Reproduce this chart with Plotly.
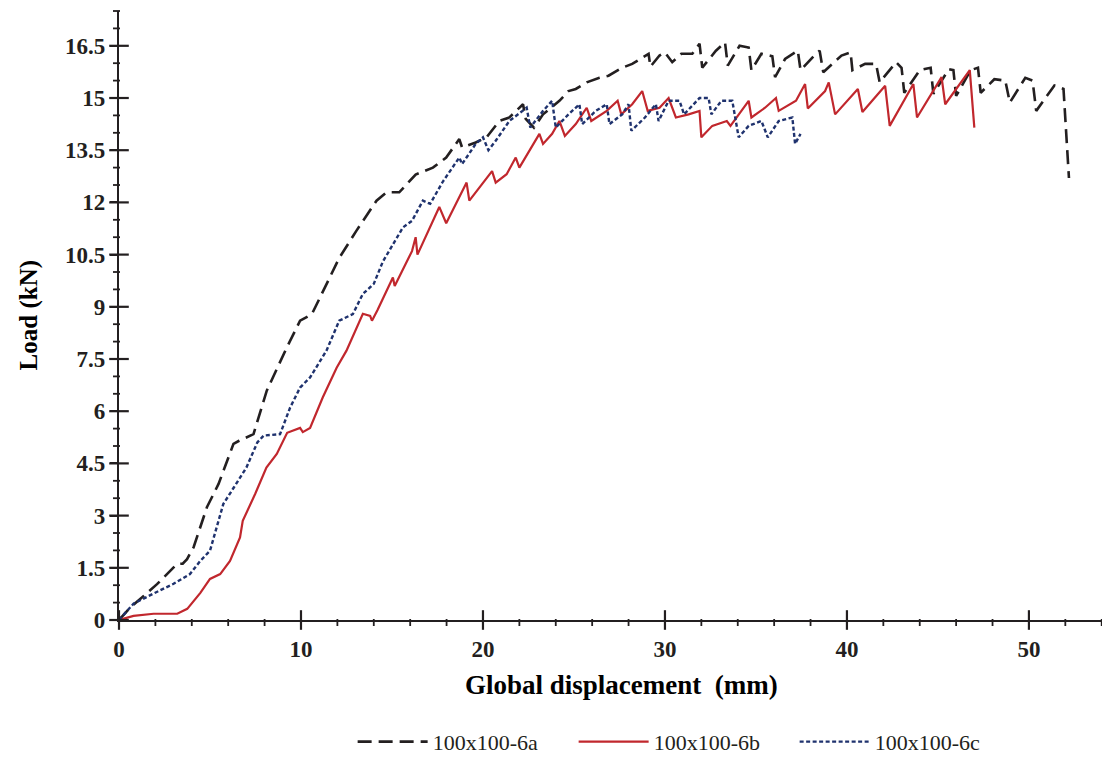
import plotly.graph_objects as go

# ---- data ----
x_6a = [0, 0.6, 1.18, 2.09, 3.19, 3.5, 3.74, 4.1, 4.83, 5.47, 6.29, 6.6, 7.39, 8.12, 9.22, 9.95, 10.6, 11.4,
        12.1, 13.05, 14.15, 14.7, 15.4, 16.3, 17.25, 17.98, 18.7, 18.85, 19.6, 20.2, 20.9, 21.45, 22.2, 22.35,
        22.8, 23.3, 24.2, 24.7, 25.1, 25.7, 26.4, 26.9, 27.65, 28.2, 29.1, 29.2, 29.7, 30.0, 30.4, 30.9, 31.5,
        31.9, 32.05, 32.8, 33.3, 33.45, 34.1, 34.6, 34.75, 35.3, 35.9, 36.05, 36.6, 37.3, 37.45, 38.3, 38.5,
        38.7, 39.7, 40.2, 40.3, 41.0, 41.6, 41.8, 42.7, 43.0, 43.15, 44.0, 44.6, 44.75, 45.6, 45.85, 46.0,
        46.8, 47.2, 47.35, 48.1, 48.7, 48.95, 49.8, 50.2, 50.4, 51.4, 51.9, 52.2]
y_6a = [0, 0.35, 0.61, 1.03, 1.61, 1.62, 1.75, 2.09, 3.24, 3.91, 5.06, 5.15, 5.34, 6.59, 7.83, 8.6, 8.79, 9.66,
        10.4, 11.19, 12.05, 12.29, 12.29, 12.8, 13.0, 13.29, 13.82, 13.58, 13.72, 13.87, 14.34, 14.44, 14.82, 14.4,
        14.15, 14.53, 14.92, 15.2, 15.26, 15.45, 15.58, 15.64, 15.87, 15.98, 16.27, 15.9, 16.22, 16.31, 16.03, 16.27, 16.27,
        16.56, 15.87, 16.36, 16.6, 15.93, 16.5, 16.45, 15.8, 16.27, 16.2, 15.6, 16.12, 16.36, 15.8, 16.27, 16.36,
        15.74, 16.22, 16.31, 15.8, 15.98, 15.98, 15.45, 16.03, 15.87, 15.15, 15.8, 15.87, 15.12, 15.83, 15.8, 15.06,
        15.8, 15.87, 15.15, 15.54, 15.5, 14.87, 15.58, 15.5, 14.63, 15.36, 15.26, 12.7]

x_6b = [0, 0.8, 1.9, 3.2, 3.75, 4.47, 5.0, 5.56, 6.1, 6.65, 6.8, 7.48, 8.1, 8.67, 9.24, 9.95, 10.1, 10.5, 11.2,
        11.96, 12.5, 13.4, 13.8, 13.9, 14.2, 15.05, 15.15, 16.1, 16.3, 16.4, 17.6, 17.98, 19.1, 19.25, 20.5, 20.7,
        21.3, 21.8, 22.0, 22.55, 23.1, 23.3, 23.8, 24.2, 24.5, 25.1, 25.7, 25.95, 26.8, 27.4, 27.6, 28.2, 28.75,
        29.05, 29.7, 30.2, 30.6, 31.3, 31.9, 32.0, 32.6, 33.4, 33.6, 34.2, 34.6, 34.75, 35.5, 36.1, 36.25, 37.2,
        37.7, 37.85, 38.8, 39.0, 39.35, 40.6, 40.85, 42.1, 42.35, 43.65, 43.85, 45.2, 45.4, 46.75, 47.0]
y_6b = [0, 0.12, 0.18, 0.18, 0.32, 0.78, 1.18, 1.32, 1.7, 2.37, 2.85, 3.62, 4.38, 4.77, 5.38, 5.52, 5.4, 5.52, 6.4,
        7.25, 7.74, 8.8, 8.74, 8.6, 8.9, 9.84, 9.6, 10.6, 11.0, 10.5, 11.87, 11.4, 12.57, 12.05, 12.9, 12.57,
        12.81, 13.29, 13.0, 13.5, 13.97, 13.68, 13.97, 14.34, 13.91, 14.25, 14.72, 14.34, 14.63, 14.92, 14.53, 14.82, 15.2,
        14.63, 14.72, 15.0, 14.44, 14.53, 14.63, 13.87, 14.2, 14.34, 14.2, 14.63, 14.92, 14.44, 14.72, 15.0, 14.63, 14.92,
        15.4, 14.7, 15.2, 15.45, 14.53, 15.26, 14.6, 15.35, 14.2, 15.4, 14.44, 15.6, 14.82, 15.8, 14.15]

x_6c = [0, 0.8, 1.9, 3.0, 3.9, 4.47, 5.0, 5.4, 5.73, 6.3, 7.0, 7.6, 7.95, 8.85, 9.4, 9.95, 10.5, 11.4, 12.1,
        12.85, 13.4, 14.0, 14.5, 15.4, 15.6, 16.1, 16.7, 17.1, 17.8, 18.7, 18.85, 19.6, 20.0, 20.3, 20.7, 21.45,
        22.4, 22.6, 23.3, 23.8, 24.0, 24.7, 25.3, 25.45, 26.2, 26.8, 26.95, 27.65, 28.0, 28.15, 28.9, 29.5, 29.65,
        30.2, 30.8, 31.05, 31.9, 32.4, 32.55, 33.1, 33.7, 34.05, 34.6, 35.3, 35.65, 36.25, 37.0, 37.15, 37.45]
y_6c = [0, 0.47, 0.76, 1.04, 1.32, 1.7, 1.99, 2.75, 3.33, 3.8, 4.38, 5.1, 5.3, 5.34, 6.1, 6.68, 6.97, 7.74, 8.6,
        8.79, 9.37, 9.66, 10.3, 11.1, 11.28, 11.47, 12.05, 11.96, 12.6, 13.29, 13.1, 13.68, 13.87, 13.5, 13.77, 14.34,
        14.72, 14.15, 14.63, 14.92, 14.15, 14.53, 14.82, 14.25, 14.63, 14.82, 14.25, 14.53, 14.82, 14.06, 14.44, 14.82, 14.34,
        14.92, 14.92, 14.53, 15.0, 15.0, 14.53, 14.92, 14.92, 13.87, 14.2, 14.34, 13.87, 14.34, 14.44, 13.68, 13.97]

series_names = ["100x100-6a", "100x100-6b", "100x100-6c"]
x_tick_vals = [0, 10, 20, 30, 40, 50]
y_tick_vals = [0, 1.5, 3, 4.5, 6, 7.5, 9, 10.5, 12, 13.5, 15, 16.5]
y_tick_text = ["0", "1.5", "3", "4.5", "6", "7.5", "9", "10.5", "12", "13.5", "15", "16.5"]
x_minor_vals = [2, 4, 6, 8, 12, 14, 16, 18, 22, 24, 26, 28, 32, 34, 36, 38, 42, 44, 46, 48, 52, 54]
y_minor_vals = [0.5, 1, 2, 2.5, 3.5, 4, 5, 5.5, 6.5, 7, 8, 8.5, 9.5, 10, 11, 11.5, 12.5, 13, 14, 14.5,
                15.5, 16, 17, 17.5]

X_RANGE = [0, 54.4]
Y_RANGE = [0, 17.5]
INK = "#231f20"
SERIF = "Liberation Serif, Times New Roman, serif"

fig = go.Figure()
fig.add_trace(go.Scatter(x=x_6a, y=y_6a, mode="lines", name=series_names[0],
                         line=dict(color="#231f20", width=2.6, dash="14px,7px")))
fig.add_trace(go.Scatter(x=x_6b, y=y_6b, mode="lines", name=series_names[1],
                         line=dict(color="#c1272d", width=2.2)))
fig.add_trace(go.Scatter(x=x_6c, y=y_6c, mode="lines", name=series_names[2],
                         line=dict(color="#1f326e", width=2.4, dash="4px,2.5px")))

# axis tick marks drawn as line markers on the axes (major ticks cross the axis, minor ticks point inward)
tick_common = dict(mode="markers", cliponaxis=False, showlegend=False, hoverinfo="skip")
fig.add_trace(go.Scatter(x=x_tick_vals, y=[Y_RANGE[0]] * len(x_tick_vals),
                         marker=dict(symbol="line-ns-open", size=14, color=INK, line=dict(width=2.2, color=INK)),
                         **tick_common))
fig.add_trace(go.Scatter(x=[X_RANGE[0]] * len(y_tick_vals), y=y_tick_vals,
                         marker=dict(symbol="line-ew-open", size=14, color=INK, line=dict(width=2.2, color=INK)),
                         **tick_common))
fig.add_trace(go.Scatter(x=x_minor_vals, y=[Y_RANGE[0]] * len(x_minor_vals),
                         marker=dict(symbol="line-ns-open", size=5, angle=0, standoff=2.5, color=INK,
                                     line=dict(width=1.8, color=INK)),
                         **tick_common))
fig.add_trace(go.Scatter(x=[X_RANGE[0]] * len(y_minor_vals), y=y_minor_vals,
                         marker=dict(symbol="line-ns-open", size=5, angle=90, standoff=2.5, color=INK,
                                     line=dict(width=1.8, color=INK)),
                         **tick_common))

tickfont = dict(family=SERIF, size=23, color=INK, weight="bold")

# The page body adds an 8px offset, so the figure is drawn 8px smaller in each direction.
fig.update_layout(
    width=1102, height=749,
    margin=dict(l=110.5, r=1, t=3, b=137.4, autoexpand=False),
    paper_bgcolor="white", plot_bgcolor="white",
    showlegend=True,
    legend=dict(orientation="h", x=0.236, xanchor="left", y=-0.200, yanchor="middle",
                font=dict(family=SERIF, size=22, color=INK), itemwidth=70,
                entrywidth=136, entrywidthmode="pixels", bgcolor="rgba(0,0,0,0)"),
    xaxis=dict(range=X_RANGE, showgrid=False, zeroline=False, showline=True, linecolor=INK, linewidth=2.2,
               automargin=False, tickmode="array", tickvals=x_tick_vals, ticks="outside", ticklen=7,
               tickwidth=2.2, tickcolor=INK, tickfont=tickfont, layer="above traces"),
    yaxis=dict(range=Y_RANGE, showgrid=False, zeroline=False, showline=True, linecolor=INK, linewidth=2.2,
               automargin=False, tickmode="array", tickvals=y_tick_vals, ticktext=y_tick_text,
               ticks="outside", ticklen=7, tickwidth=2.2, tickcolor=INK, tickfont=tickfont,
               layer="above traces"),
    annotations=[
        dict(text="Global displacement\u00a0\u00a0(mm)", xref="paper", yref="paper", x=0.508, y=-0.107,
             xanchor="center", yanchor="middle", showarrow=False,
             font=dict(family=SERIF, size=27, color="black", weight="bold")),
        dict(text="Load (kN)", xref="paper", yref="paper", x=-0.091, y=0.5, textangle=-90,
             xanchor="center", yanchor="middle", showarrow=False,
             font=dict(family=SERIF, size=25, color="black", weight="bold")),
    ],
)

fig.write_html("out.html")
